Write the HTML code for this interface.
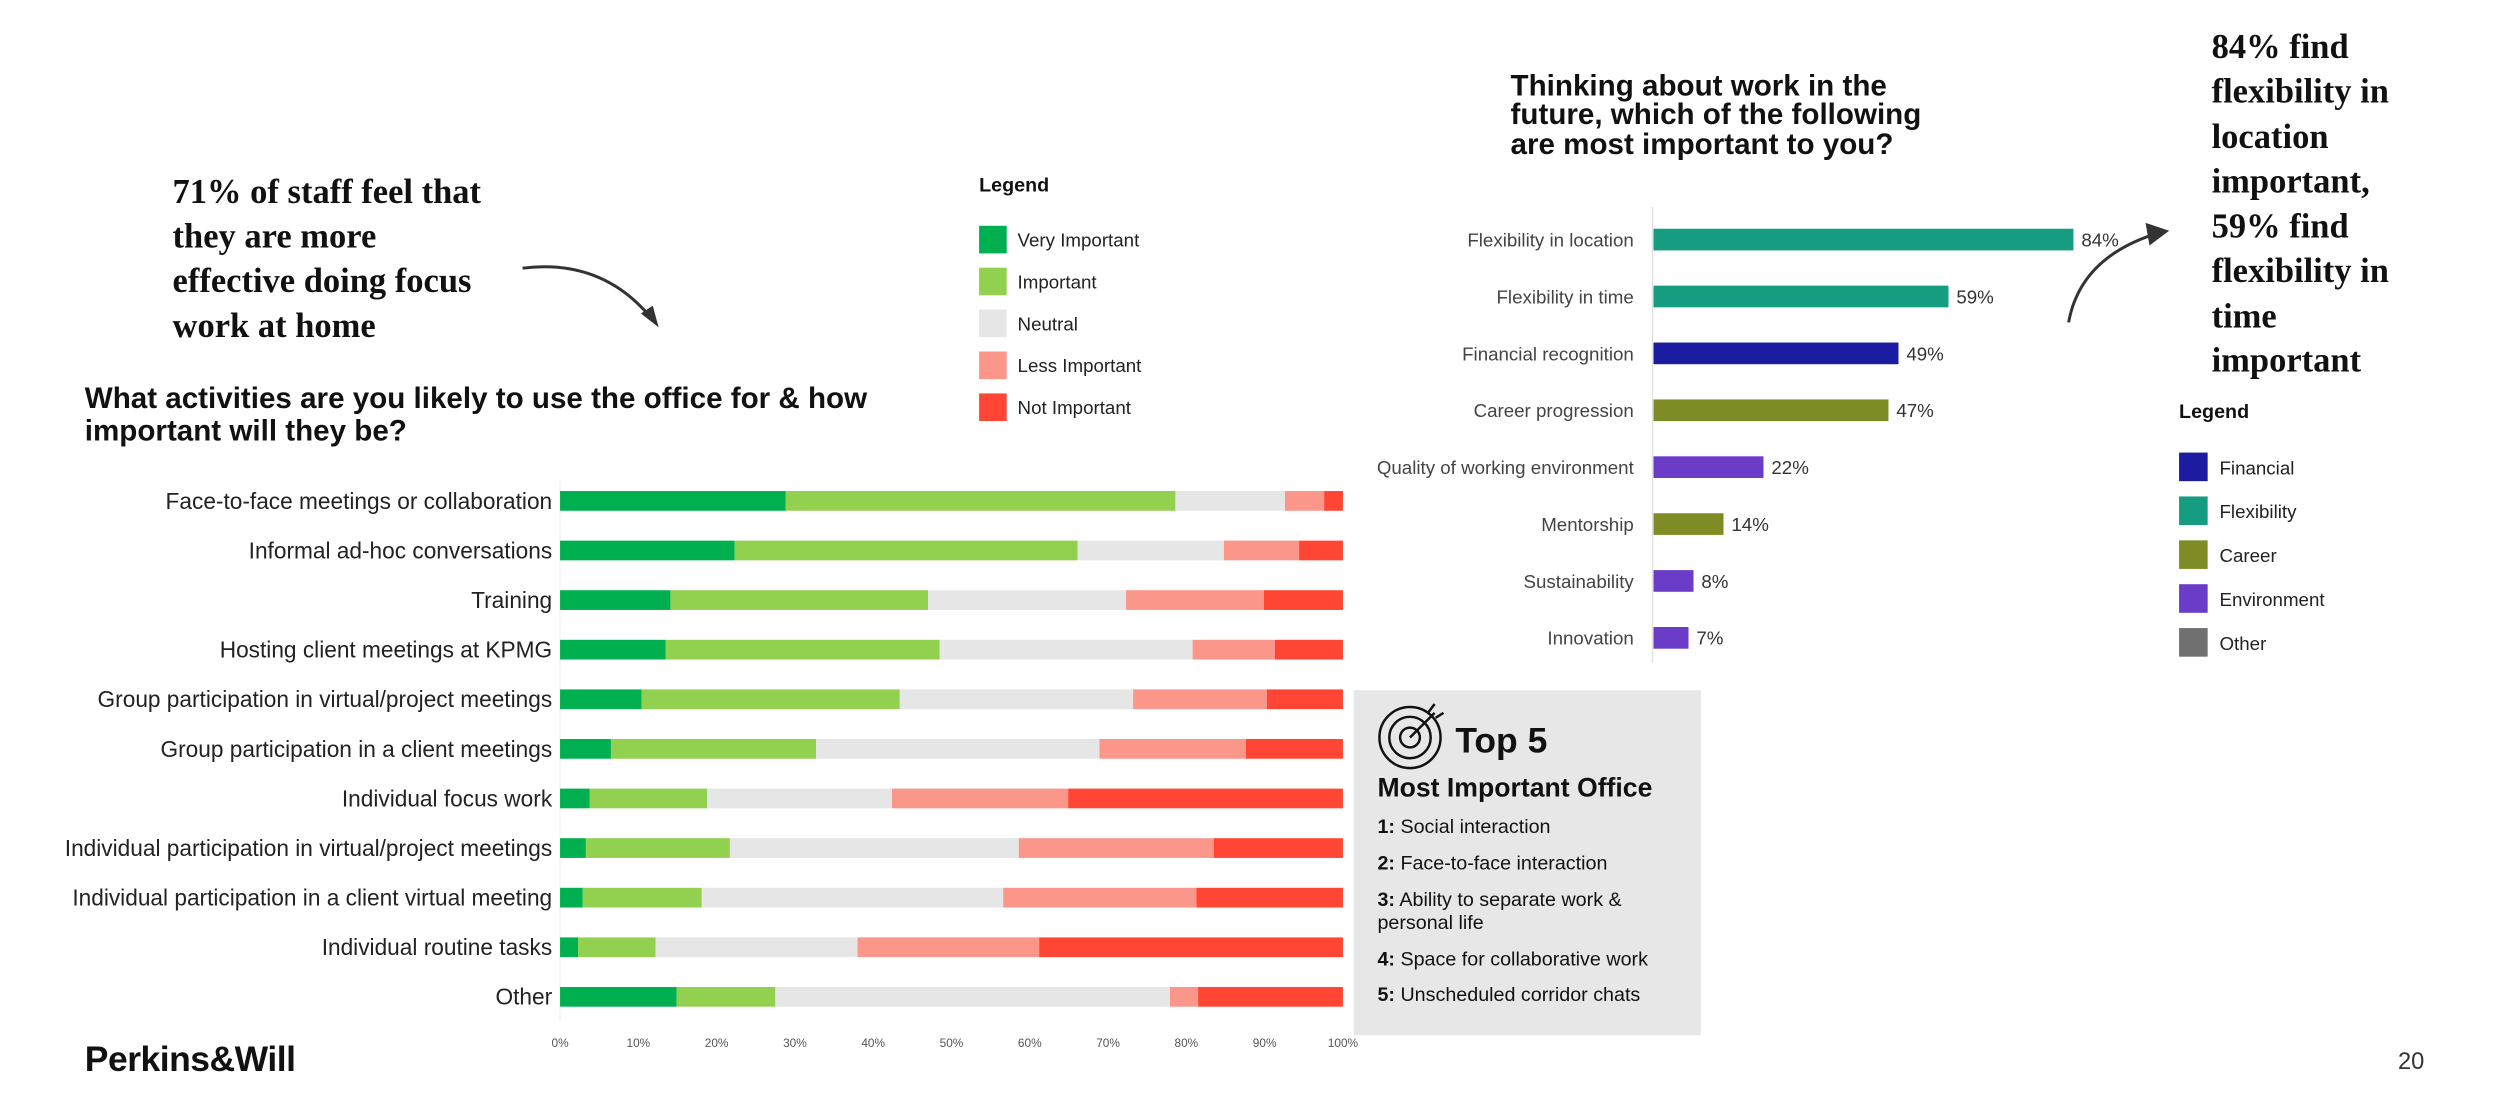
<!DOCTYPE html>
<html><head><meta charset="utf-8"><style>
body{margin:0;background:#fff;}
svg{display:block;}
text{font-family:"Liberation Sans",sans-serif;}
.serif{font-family:"Liberation Serif",serif;font-weight:bold;}
</style></head><body>
<svg id="s" width="2500" height="1107" viewBox="0 0 2500 1107">
<g transform="scale(0.986)">
<g class="serif" font-size="35" fill="#111">
<text class="serif" x="175" y="206">71% of staff feel that</text>
<text class="serif" x="175" y="251">they are more</text>
<text class="serif" x="175" y="296">effective doing focus</text>
<text class="serif" x="175" y="342">work at home</text>
</g>
<path d="M530 272 Q610 262 660 322" fill="none" stroke="#333" stroke-width="3"/>
<path d="M650 318 L668 332 L662 310 Z" fill="#333"/>
<g font-size="30" font-weight="bold" fill="#111">
<text x="86" y="414">What activities are you likely to use the office for &amp; how</text>
<text x="86" y="447">important will they be?</text>
</g>
<g id="leftLegend">
<text x="993" y="194" font-size="20" font-weight="bold" fill="#111">Legend</text>
</g>
<g id="leftChart"></g>
<g font-size="30" font-weight="bold" fill="#111">
<text x="1532" y="97">Thinking about work in the</text>
<text x="1532" y="126">future, which of the following</text>
<text x="1532" y="156">are most important to you?</text>
</g>
<g id="rightChart"></g>
<path d="M2098 327 Q2110 260 2190 236" fill="none" stroke="#333" stroke-width="3"/>
<path d="M2176 226 L2200 234 L2180 249 Z" fill="#333"/>
<g font-size="35" fill="#111">
<text class="serif" x="2243" y="59">84% find</text>
<text class="serif" x="2243" y="104">flexibility in</text>
<text class="serif" x="2243" y="150">location</text>
<text class="serif" x="2243" y="195">important,</text>
<text class="serif" x="2243" y="241">59% find</text>
<text class="serif" x="2243" y="286">flexibility in</text>
<text class="serif" x="2243" y="332">time</text>
<text class="serif" x="2243" y="377">important</text>
</g>
<g id="rightLegend">
<text x="2210" y="424" font-size="20" font-weight="bold" fill="#111">Legend</text>
</g>
<g>
<rect x="1373" y="700" width="352" height="350" fill="#e7e7e8"/>
<g fill="none" stroke="#111" stroke-width="2.5">
<circle cx="1430" cy="748" r="31"/><circle cx="1430" cy="748" r="21"/><circle cx="1430" cy="748" r="10"/>
<line x1="1430" y1="748" x2="1455" y2="723"/><path d="M1449 722 L1455 714 M1456 728 L1464 723"/>
</g>
<text x="1476" y="763" font-size="36" font-weight="bold" fill="#111">Top 5</text>
<text x="1397" y="808" font-size="27" font-weight="bold" fill="#111">Most Important Office</text>
<g font-size="20" fill="#111">
<text x="1397" y="845"><tspan font-weight="bold">1:</tspan> Social interaction</text>
<text x="1397" y="882"><tspan font-weight="bold">2:</tspan> Face-to-face interaction</text>
<text x="1397" y="919"><tspan font-weight="bold">3:</tspan> Ability to separate work &amp;</text>
<text x="1397" y="942">personal life</text>
<text x="1397" y="979"><tspan font-weight="bold">4:</tspan> Space for collaborative work</text>
<text x="1397" y="1015"><tspan font-weight="bold">5:</tspan> Unscheduled corridor chats</text>
</g>
</g>
<text x="86" y="1086" font-size="36" font-weight="bold" fill="#111" letter-spacing="-0.5">Perkins&amp;Will</text>
<text x="2432" y="1084" font-size="24" fill="#333">20</text>
</g>
</svg>
<script>
const NS="http://www.w3.org/2000/svg";
const leftCategories=["Face-to-face meetings or collaboration","Informal ad-hoc conversations","Training","Hosting client meetings at KPMG","Group participation in virtual/project meetings","Group participation in a client meetings","Individual focus work","Individual participation in virtual/project meetings","Individual participation in a client virtual meeting","Individual routine tasks","Other"];
const seriesNames=["Very Important","Important","Neutral","Less Important","Not Important"];
const veryImportant=[28.8,22.3,14.1,13.5,10.4,6.5,3.8,3.3,2.9,2.3,14.9];
const important=[49.8,43.8,32.9,35,33,26.2,15,18.4,15.2,9.9,12.6];
const neutral=[14,18.7,25.3,32.3,29.8,36.2,23.6,36.9,38.5,25.8,50.4];
const lessImportant=[5,9.6,17.6,10.5,17.1,18.7,22.5,24.9,24.7,23.2,3.6];
const notImportant=[2.4,5.6,10.1,8.7,9.7,12.4,35.1,16.5,18.7,38.8,18.5];
const xTicks=[0,10,20,30,40,50,60,70,80,90,100];
const rightCategories=["Flexibility in location","Flexibility in time","Financial recognition","Career progression","Quality of working environment","Mentorship","Sustainability","Innovation"];
const rightValues=[84,59,49,47,22,14,8,7];
const rightGroups=["Flexibility","Flexibility","Financial","Career","Environment","Career","Environment","Environment"];
const groupNames=["Financial","Flexibility","Career","Environment","Other"];

function mk(parent,tag,attrs,txt){const e=document.createElementNS(NS,tag);for(const k in attrs)e.setAttribute(k,attrs[k]);if(txt!==undefined)e.textContent=txt;parent.appendChild(e);return e;}
const segColors=["#00b050","#92d050","#e6e6e6","#fa968a","#ff4533"];
const lc=document.getElementById("leftChart");
const lx=v=>568+v/100*794;
const ly=i=>508+i*50.3;
mk(lc,"line",{x1:568,y1:485,x2:568,y2:1035,stroke:"#eee","stroke-width":1});
const series=[veryImportant,important,neutral,lessImportant,notImportant];
leftCategories.forEach((c,i)=>{
  const t=mk(lc,"text",{x:560,y:ly(i)+8,"text-anchor":"end","font-size":23,fill:"#222"},c);
  
  
  let cum=0;
  series.forEach((s,j)=>{
    const r=mk(lc,"rect",{x:lx(cum),y:ly(i)-10,width:lx(cum+s[i])-lx(cum),height:20,fill:segColors[j]});
    
    
    cum+=s[i];
  });
});
xTicks.forEach(v=>{
  const t=mk(lc,"text",{x:lx(v),y:1062,"text-anchor":"middle","font-size":12,fill:"#555"},v+"%");
  
  
});
const ll=document.getElementById("leftLegend");
seriesNames.forEach((n,j)=>{
  const y=243+j*42.5;
  const r=mk(ll,"rect",{x:993,y:y-14,width:28,height:28,fill:segColors[j]});
  
  
  const t=mk(ll,"text",{x:1032,y:y+7,"font-size":19,fill:"#222"},n);
  
  
});
const gColors={Financial:"#1c1ca0",Flexibility:"#169c80",Career:"#7f8c26",Environment:"#6a3cc8",Other:"#707070"};
const rc=document.getElementById("rightChart");
const rx=v=>1676+v*5.07;
const ry=i=>243+i*57.7;
mk(rc,"line",{x1:1676,y1:210,x2:1676,y2:672,stroke:"#e2e2e2","stroke-width":1.5});
rightCategories.forEach((c,i)=>{
  const t=mk(rc,"text",{x:1657,y:ry(i)+7,"text-anchor":"end","font-size":19,fill:"#444"},c);
  
  
  const r=mk(rc,"rect",{x:1677,y:ry(i)-11,width:rx(rightValues[i])-rx(0),height:22,fill:gColors[rightGroups[i]]});
  
  
  const v=mk(rc,"text",{x:rx(rightValues[i])+9,y:ry(i)+7,"font-size":19,fill:"#333"},rightValues[i]+"%");
  
  
});
const rl=document.getElementById("rightLegend");
groupNames.forEach((n,j)=>{
  const y=474+j*44.5;
  const r=mk(rl,"rect",{x:2210,y:y-15,width:29,height:29,fill:gColors[n]});
  
  
  const t=mk(rl,"text",{x:2251,y:y+7,"font-size":19,fill:"#222"},n);
  
  
});
</script>
</body></html>
